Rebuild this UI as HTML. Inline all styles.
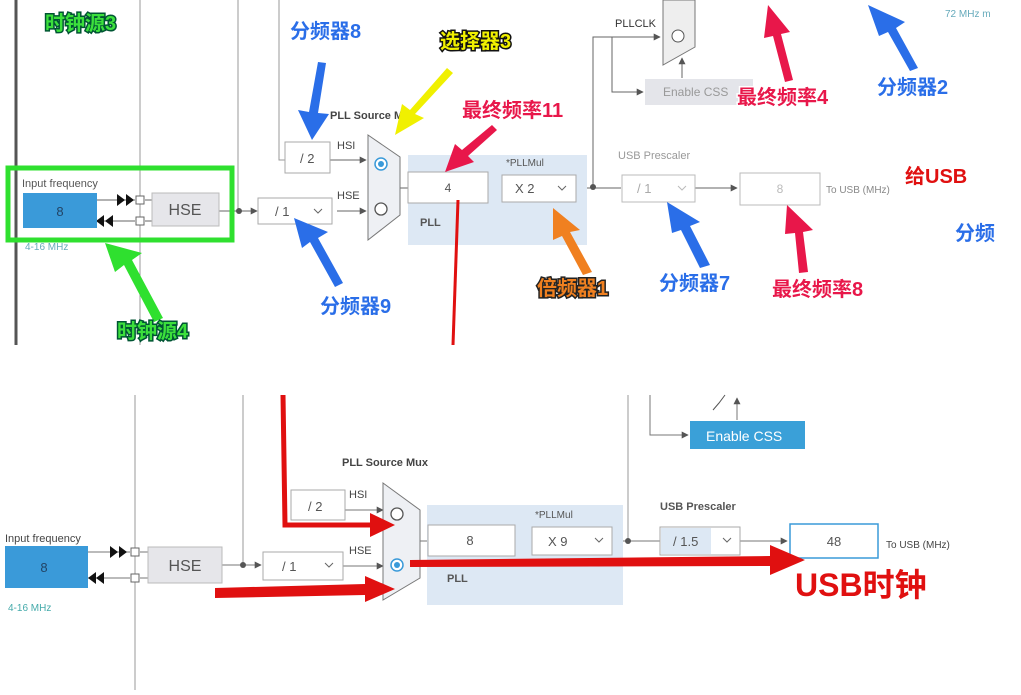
<!DOCTYPE html>
<html><head><meta charset="utf-8"><style>
html,body{margin:0;padding:0;background:#fff;width:1021px;height:695px;overflow:hidden}
svg text{font-family:"Liberation Sans","Noto Sans CJK SC",sans-serif}
.a{font-weight:bold;font-size:20px;paint-order:stroke;stroke-width:3px}
</style></head><body>
<svg width="1021" height="695" viewBox="0 0 1021 695" xmlns="http://www.w3.org/2000/svg">
<defs>
<marker id="m" viewBox="0 0 10 10" refX="9" refY="5" markerWidth="7" markerHeight="7" orient="auto"><path d="M0,0L10,5L0,10z" fill="#555"/></marker>
</defs>
<!-- TOP PANEL -->
<g stroke="#666" fill="none">
<line x1="16" y1="0" x2="16" y2="345" stroke="#555" stroke-width="3"/>
<line x1="140" y1="0" x2="140" y2="345" stroke="#999"/>
<line x1="238" y1="0" x2="238" y2="211" stroke="#999"/>
<polyline points="279,0 279,160 285,160" stroke="#999"/>
<line x1="219" y1="211" x2="257" y2="211" marker-end="url(#m)"/>
<line x1="330" y1="160" x2="366" y2="160" marker-end="url(#m)"/>
<line x1="337" y1="211" x2="366" y2="211" marker-end="url(#m)"/>
<line x1="400" y1="188" x2="408" y2="188"/>
<line x1="488" y1="188" x2="502" y2="188"/>
<line x1="576" y1="188" x2="621" y2="188"/>
<polyline points="593,188 593,37 660,37" marker-end="url(#m)"/>
<polyline points="612,37 612,92 643,92" marker-end="url(#m)"/>
<line x1="695" y1="188" x2="737" y2="188" marker-end="url(#m)"/>
<line x1="682" y1="78" x2="682" y2="58" marker-end="url(#m)"/>
<line x1="97" y1="200" x2="135" y2="200"/>
<line x1="97" y1="221" x2="135" y2="221"/>
<line x1="145" y1="200" x2="152" y2="200"/>
<line x1="145" y1="221" x2="152" y2="221"/>
</g>
<circle cx="239" cy="211" r="3" fill="#555"/>
<circle cx="593" cy="187" r="3" fill="#555"/>
<path d="M117,194l8,6l-8,6z M126,194l8,6l-8,6z M113,215l-8,6l8,6z M104,215l-8,6l8,6z" fill="#111"/>
<rect x="136" y="196" width="8" height="8" fill="#fff" stroke="#666"/>
<rect x="136" y="217" width="8" height="8" fill="#fff" stroke="#666"/>
<text x="45" y="30" class="a" fill="#3ce03c" stroke="#053" font-size="22">时钟源3</text>
<rect x="8" y="168" width="224" height="72" fill="none" stroke="#2fe02f" stroke-width="5"/>
<text x="22" y="187" font-size="11" fill="#555">Input frequency</text>
<rect x="23" y="193" width="74" height="35" fill="#3a9ad9"/>
<text x="60" y="216" font-size="13" fill="#246" text-anchor="middle">8</text>
<rect x="152" y="193" width="67" height="33" fill="#e6e6ea" stroke="#bbb"/>
<text x="185" y="215" font-size="16" fill="#555" text-anchor="middle">HSE</text>
<text x="25" y="250" font-size="10" fill="#6ab">4-16 MHz</text>
<rect x="258" y="198" width="74" height="26" fill="#fff" stroke="#aaa"/>
<text x="275" y="216" font-size="13" fill="#555">/ 1</text>
<path d="M314,209l4,4l4,-4" stroke="#666" fill="none"/>
<rect x="285" y="142" width="45" height="31" fill="#fff" stroke="#aaa"/>
<text x="300" y="163" font-size="13" fill="#555">/ 2</text>
<text x="337" y="149" font-size="11" fill="#444">HSI</text>
<text x="337" y="199" font-size="11" fill="#444">HSE</text>
<text x="330" y="119" font-size="11" font-weight="bold" fill="#444">PLL Source M</text>
<polygon points="368,135 400,157 400,215 368,240" fill="#eef0f4" stroke="#777"/>
<circle cx="381" cy="164" r="6" fill="#fff" stroke="#3a9ad9" stroke-width="1.5"/><circle cx="381" cy="164" r="3" fill="#3a9ad9"/>
<circle cx="381" cy="209" r="6" fill="#fff" stroke="#555" stroke-width="1.3"/>
<rect x="408" y="155" width="179" height="90" fill="#dde8f4"/>
<rect x="408" y="172" width="80" height="31" fill="#fff" stroke="#aaa"/>
<text x="448" y="192" font-size="12" fill="#555" text-anchor="middle">4</text>
<text x="506" y="166" font-size="10" fill="#555">*PLLMul</text>
<rect x="502" y="175" width="74" height="27" fill="#fff" stroke="#aaa"/>
<text x="515" y="193" font-size="13" fill="#555">X 2</text>
<path d="M558,186l4,4l4,-4" stroke="#666" fill="none"/>
<text x="420" y="226" font-size="11" font-weight="bold" fill="#555">PLL</text>
<text x="618" y="159" font-size="11" fill="#999">USB Prescaler</text>
<rect x="622" y="175" width="73" height="27" fill="#fff" stroke="#bbb"/>
<text x="637" y="193" font-size="13" fill="#aaa">/ 1</text>
<path d="M678,186l4,4l4,-4" stroke="#bbb" fill="none"/>
<rect x="740" y="173" width="80" height="32" fill="#fff" stroke="#bbb"/>
<text x="780" y="193" font-size="12" fill="#bbb" text-anchor="middle">8</text>
<text x="826" y="193" font-size="10" fill="#888">To USB (MHz)</text>
<text x="945" y="17" font-size="10" fill="#6ab">72 MHz m</text>
<text x="615" y="27" font-size="11" fill="#333">PLLCLK</text>
<polygon points="663,0 695,0 695,47 663,65" fill="#eee" stroke="#777"/>
<circle cx="678" cy="36" r="6" fill="#fff" stroke="#555"/>
<rect x="645" y="79" width="108" height="26" fill="#e4e5ea"/>
<text x="663" y="96" font-size="12" fill="#999">Enable CSS</text>
<line x1="458" y1="200" x2="453" y2="345" stroke="#e01010" stroke-width="3"/>
<!-- annotation arrows top -->
<g>
<polygon points="312,140 298,110 309,112 318,62 326,63 318,113 329,114" fill="#2a6ee8"/>
<polygon points="395,135 402,104 410,110 447,68 453,73 415,114 424,118" fill="#f0f000"/>
<polygon points="445,172 455,144 462,150 492,125 497,130 468,156 474,162" fill="#e8174a"/>
<polygon points="768,5 790,32 781,34 793,80 785,82 773,36 764,38" fill="#e8174a"/>
<polygon points="868,5 905,22 896,28 918,68 910,71 888,32 879,36" fill="#2a6ee8"/>
<polygon points="553,208 580,230 570,232 592,272 583,275 562,236 553,240" fill="#f08020"/>
<polygon points="667,202 700,222 690,226 710,265 700,268 681,230 672,233" fill="#2a6ee8"/>
<polygon points="787,205 813,230 803,232 808,272 799,273 795,233 785,234" fill="#e8174a"/>
<polygon points="294,218 328,232 318,238 343,283 335,287 310,242 302,248" fill="#2a6ee8"/>
<polygon points="105,243 142,253 132,260 163,318 154,322 124,265 115,272" fill="#2fe02f"/>
</g>
<text x="290" y="38" class="a" fill="#2a6ee8" stroke="#fff">分频器8</text>
<text x="440" y="48" class="a" fill="#f0f000" stroke="#111">选择器3</text>
<text x="462" y="117" class="a" fill="#e8174a" stroke="#fff">最终频率11</text>
<text x="737" y="104" class="a" fill="#e8174a" stroke="#fff">最终频率4</text>
<text x="877" y="94" class="a" fill="#2a6ee8" stroke="#fff">分频器2</text>
<text x="905" y="183" class="a" fill="#e01010" stroke="#fff">给USB</text>
<text x="955" y="240" class="a" fill="#2a6ee8" stroke="#fff">分频</text>
<rect x="995" y="0" width="26" height="345" fill="#fff"/>
<text x="537" y="295" class="a" fill="#f08020" stroke="#222">倍频器1</text>
<text x="659" y="290" class="a" fill="#2a6ee8" stroke="#fff">分频器7</text>
<text x="772" y="296" class="a" fill="#e8174a" stroke="#fff">最终频率8</text>
<text x="320" y="313" class="a" fill="#2a6ee8" stroke="#fff">分频器9</text>
<text x="117" y="338" class="a" fill="#3ce03c" stroke="#053">时钟源4</text>

<!-- BOTTOM PANEL -->
<g stroke="#777" fill="none">
<line x1="135" y1="395" x2="135" y2="690" stroke="#999"/>
<line x1="243" y1="395" x2="243" y2="565" stroke="#999"/>
<line x1="628" y1="395" x2="628" y2="541" stroke="#999"/>
<polyline points="650,395 650,435 688,435" marker-end="url(#m)"/>
<line x1="737" y1="420" x2="737" y2="398" marker-end="url(#m)"/>
<path d="M713,410l6,-7l6,-8" stroke="#555"/>
<line x1="222" y1="565" x2="261" y2="565" marker-end="url(#m)"/>
<line x1="345" y1="510" x2="383" y2="510" marker-end="url(#m)"/>
<line x1="343" y1="566" x2="383" y2="566" marker-end="url(#m)"/>
<line x1="420" y1="541" x2="428" y2="541"/>
<line x1="515" y1="541" x2="532" y2="541"/>
<line x1="612" y1="541" x2="660" y2="541"/>
<line x1="740" y1="541" x2="787" y2="541" marker-end="url(#m)"/>
<line x1="88" y1="552" x2="130" y2="552"/>
<line x1="88" y1="578" x2="130" y2="578"/>
<line x1="140" y1="552" x2="148" y2="552"/>
<line x1="140" y1="578" x2="148" y2="578"/>
</g>
<circle cx="243" cy="565" r="3" fill="#555"/>
<circle cx="628" cy="541" r="3" fill="#555"/>
<path d="M110,546l8,6l-8,6z M119,546l8,6l-8,6z M104,572l-8,6l8,6z M96,572l-8,6l8,6z" fill="#111"/>
<rect x="131" y="548" width="8" height="8" fill="#fff" stroke="#666"/>
<rect x="131" y="574" width="8" height="8" fill="#fff" stroke="#666"/>
<rect x="690" y="421" width="115" height="28" fill="#3aa0d8"/>
<text x="706" y="441" font-size="14" fill="#fff">Enable CSS</text>
<text x="342" y="466" font-size="11" font-weight="bold" fill="#444">PLL Source Mux</text>
<text x="5" y="542" font-size="11" fill="#444">Input frequency</text>
<rect x="5" y="546" width="83" height="42" fill="#3a9ad9"/>
<text x="44" y="572" font-size="13" fill="#246" text-anchor="middle">8</text>
<text x="8" y="611" font-size="10" fill="#4aa">4-16 MHz</text>
<rect x="148" y="547" width="74" height="36" fill="#e6e6ea" stroke="#bbb"/>
<text x="185" y="571" font-size="16" fill="#555" text-anchor="middle">HSE</text>
<rect x="263" y="552" width="80" height="28" fill="#fff" stroke="#aaa"/>
<text x="282" y="571" font-size="13" fill="#555">/ 1</text>
<path d="M325,563l4,4l4,-4" stroke="#666" fill="none"/>
<rect x="291" y="490" width="54" height="30" fill="#fff" stroke="#aaa"/>
<text x="308" y="511" font-size="13" fill="#555">/ 2</text>
<text x="349" y="498" font-size="11" fill="#444">HSI</text>
<text x="349" y="554" font-size="11" fill="#444">HSE</text>
<polygon points="383,483 420,510 420,578 383,600" fill="#eef0f4" stroke="#777"/>
<circle cx="397" cy="514" r="6" fill="#fff" stroke="#555" stroke-width="1.3"/>
<circle cx="397" cy="565" r="6" fill="#fff" stroke="#3a9ad9" stroke-width="1.5"/><circle cx="397" cy="565" r="3" fill="#3a9ad9"/>
<rect x="427" y="505" width="196" height="100" fill="#dde8f4"/>
<rect x="428" y="525" width="87" height="31" fill="#fff" stroke="#aaa"/>
<text x="470" y="545" font-size="13" fill="#555" text-anchor="middle">8</text>
<text x="535" y="518" font-size="10" fill="#555">*PLLMul</text>
<rect x="532" y="527" width="80" height="28" fill="#fff" stroke="#aaa"/>
<text x="548" y="546" font-size="13" fill="#555">X 9</text>
<path d="M595,538l4,4l4,-4" stroke="#666" fill="none"/>
<text x="447" y="582" font-size="11" font-weight="bold" fill="#555">PLL</text>
<text x="660" y="510" font-size="11" font-weight="bold" fill="#555">USB Prescaler</text>
<rect x="660" y="527" width="80" height="28" fill="#fff" stroke="#aaa"/>
<rect x="661" y="528" width="50" height="26" fill="#dde8f4"/>
<text x="673" y="546" font-size="13" fill="#555">/ 1.5</text>
<path d="M723,538l4,4l4,-4" stroke="#666" fill="none"/>
<rect x="790" y="524" width="88" height="34" fill="#fff" stroke="#3a9ad9" stroke-width="1.5"/>
<text x="834" y="546" font-size="13" fill="#555" text-anchor="middle">48</text>
<text x="886" y="548" font-size="10" fill="#444">To USB (MHz)</text>
<!-- red arrows bottom -->
<polyline points="283,395 285,525 375,525" fill="none" stroke="#e01010" stroke-width="5"/>
<polygon points="370,513 395,525 370,537" fill="#e01010"/>
<polygon points="215,588 365,584 365,576 395,589 365,602 365,595 215,598" fill="#e01010"/>
<polygon points="410,560 770,556 770,545 805,560 770,575 770,566 410,567" fill="#e01010"/>
<text x="795" y="596" font-size="32" font-weight="bold" fill="#e01010" style="paint-order:stroke" stroke="#fff" stroke-width="3">USB时钟</text>
</svg>
</body></html>
